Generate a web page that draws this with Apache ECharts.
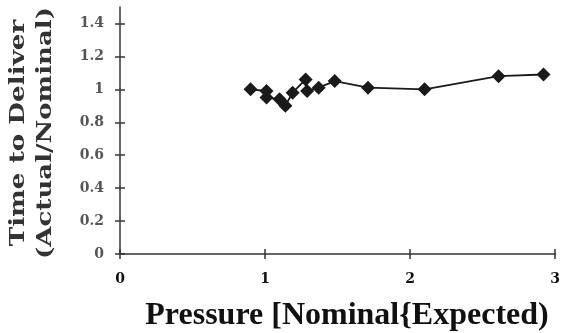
<!DOCTYPE html>
<html><head><meta charset="utf-8">
<script src="https://cdn.jsdelivr.net/npm/echarts@6/dist/echarts.min.js"></script>
<style>html,body{margin:0;padding:0;background:#fff}#c{width:563px;height:333px}</style>
</head><body><div id="c"></div>
<script>
const pressure = [0.90, 1.01, 1.01, 1.10, 1.14, 1.19, 1.28, 1.29, 1.37, 1.48, 1.71, 2.10, 2.61, 2.92];
const timeRatio = [1.00, 0.99, 0.95, 0.94, 0.90, 0.98, 1.06, 0.99, 1.01, 1.05, 1.01, 1.00, 1.08, 1.09];
const yTicks = [0, 0.2, 0.4, 0.6, 0.8, 1, 1.2, 1.4];
const xTicks = [0, 1, 2, 3];
const xTitle = 'Pressure [Nominal{Expected)';
const yTitle1 = 'Time to Deliver';
const yTitle2 = '(Actual/Nominal)';

const chart = echarts.init(document.getElementById('c'));
const pts = pressure.map((x, i) => [x, timeRatio[i]]);
const axisLineStyle = {color: '#333', width: 1.5};
const yTitleStyle = {fontFamily: 'DejaVu Serif', fontWeight: 'bold', fontSize: 20, fill: '#333', align: 'center', verticalAlign: 'middle'};
chart.setOption({
  animation: false,
  grid: {left: 120, right: 7, top: 7, bottom: 79},
  xAxis: [{
    type: 'value', min: 0, max: 3, interval: 1,
    axisLine: {show: true, lineStyle: axisLineStyle, onZero: false},
    axisTick: {show: true, length: 5, inside: false, lineStyle: axisLineStyle},
    splitLine: {show: false},
    axisLabel: {margin: 18, color: '#111', fontFamily: 'DejaVu Serif', fontWeight: 'bold', fontSize: 14,
      customValues: xTicks}
  }, {
    type: 'value', min: 0, max: 3, interval: 1, position: 'bottom',
    axisLine: {show: false}, axisTick: {show: true, inside: true, length: 5, lineStyle: axisLineStyle},
    axisLabel: {show: false}, splitLine: {show: false}
  }],
  yAxis: [{
    type: 'value', min: 0, max: 1.5,
    axisLine: {show: true, lineStyle: axisLineStyle, onZero: false},
    axisTick: {show: true, length: 5, customValues: yTicks, lineStyle: axisLineStyle},
    splitLine: {show: false},
    axisLabel: {customValues: yTicks, margin: 16, color: '#555', fontFamily: 'DejaVu Serif', fontWeight: 'bold', fontSize: 14}
  }, {
    type: 'value', min: 0, max: 1.5, position: 'left',
    axisLine: {show: false},
    axisTick: {show: true, inside: true, length: 5, customValues: yTicks, lineStyle: axisLineStyle},
    axisLabel: {show: false}, splitLine: {show: false}
  }],
  graphic: [
    {type: 'text', x: 19, y: 133, rotation: Math.PI / 2, scaleX: 1.31,
      style: Object.assign({text: yTitle1}, yTitleStyle)},
    {type: 'text', x: 46, y: 133, rotation: Math.PI / 2, scaleX: 1.3,
      style: Object.assign({text: yTitle2}, yTitleStyle)},
    {type: 'text', x: 347, y: 316,
      style: {text: xTitle, fontFamily: 'Liberation Serif', fontWeight: 'bold', fontSize: 32, fill: '#111', align: 'center', verticalAlign: 'middle'}}
  ],
  series: [{
    type: 'line', data: pts, xAxisIndex: 0, yAxisIndex: 0,
    symbol: 'diamond', symbolSize: 14,
    itemStyle: {color: '#1a1a1a'},
    lineStyle: {color: '#1a1a1a', width: 1.8}
  }]
});
</script></body></html>
